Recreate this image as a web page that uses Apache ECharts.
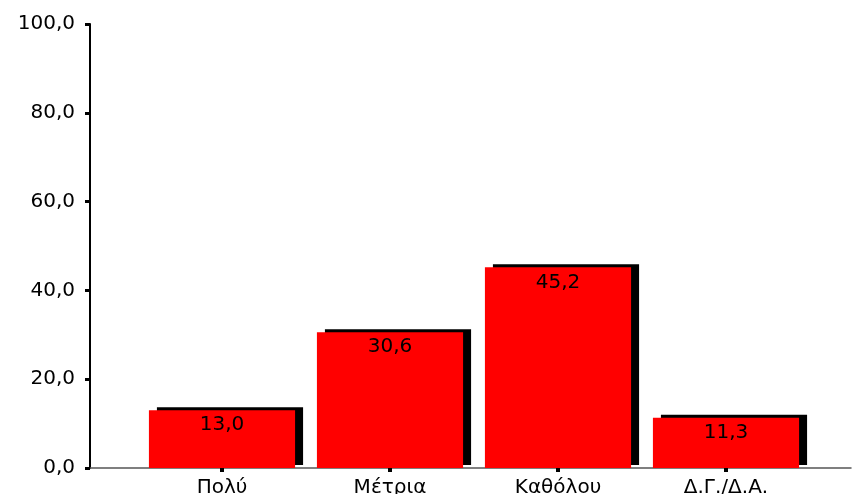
<!DOCTYPE html>
<html>
<head>
<meta charset="utf-8">
<script src="https://cdn.jsdelivr.net/npm/echarts@6/dist/echarts.min.js"></script>
<style>
  html, body { margin: 0; padding: 0; background: #fff; }
  #chart { width: 855px; height: 494px; }
</style>
</head>
<body>
<div id="chart"></div>
<script>
const categories = ['Πολύ', 'Μέτρια', 'Καθόλου', 'Δ.Γ./Δ.Α.']
const values = [13.0, 30.6, 45.2, 11.3]
const yTicks = [0, 20, 40, 60, 80, 100]

const fmt = v => v.toFixed(1).replace('.', ',')
const font = 'DejaVu Sans'

const chart = echarts.init(document.getElementById('chart'))

const option = {
  animation: false,
  textStyle: { fontFamily: font },
  grid: [
    { left: 138, right: 45, top: 24, bottom: 26, outerBoundsMode: 'none' },
    // full width baseline
    { left: 90, right: 4, top: 24, bottom: 26, outerBoundsMode: 'none' }
  ],
  xAxis: [
    {
      type: 'category',
      gridIndex: 0,
      data: categories,
      axisLine: { show: false },
      axisTick: { show: true, alignWithLabel: true, length: 4, lineStyle: { color: '#000', width: 4 } },
      axisLabel: { color: '#000', fontSize: 20, margin: 10, fontFamily: font }
    },
    {
      type: 'value',
      gridIndex: 1,
      min: 0, max: 1,
      axisLine: { show: true, lineStyle: { color: '#555', width: 1.5 } },
      axisTick: { show: false },
      axisLabel: { show: false },
      splitLine: { show: false }
    }
  ],
  yAxis: [
    {
      type: 'value',
      gridIndex: 0,
      min: yTicks[0],
      max: yTicks[yTicks.length - 1],
      interval: 20,
      offset: 48,
      axisLine: { show: true, lineStyle: { color: '#000', width: 2 } },
      axisTick: { show: true, length: 5, lineStyle: { color: '#000', width: 3 } },
      axisLabel: { color: '#000', fontSize: 20, margin: 15, fontFamily: font, formatter: fmt },
      splitLine: { show: false }
    },
    {
      type: 'value',
      gridIndex: 1,
      show: false
    }
  ],
  series: [
    {
      type: 'bar',
      xAxisIndex: 0,
      yAxisIndex: 0,
      data: values,
      barCategoryGap: '13%',
      itemStyle: {
        color: '#ff0000',
        shadowColor: '#000',
        shadowBlur: 0,
        shadowOffsetX: 8,
        shadowOffsetY: -3
      },
      label: {
        show: true,
        position: 'insideTop',
        distance: 5,
        color: '#000',
        fontSize: 20,
        fontFamily: font,
        formatter: p => fmt(p.value)
      }
    }
  ]
}

chart.setOption(option)
</script>
</body>
</html>
